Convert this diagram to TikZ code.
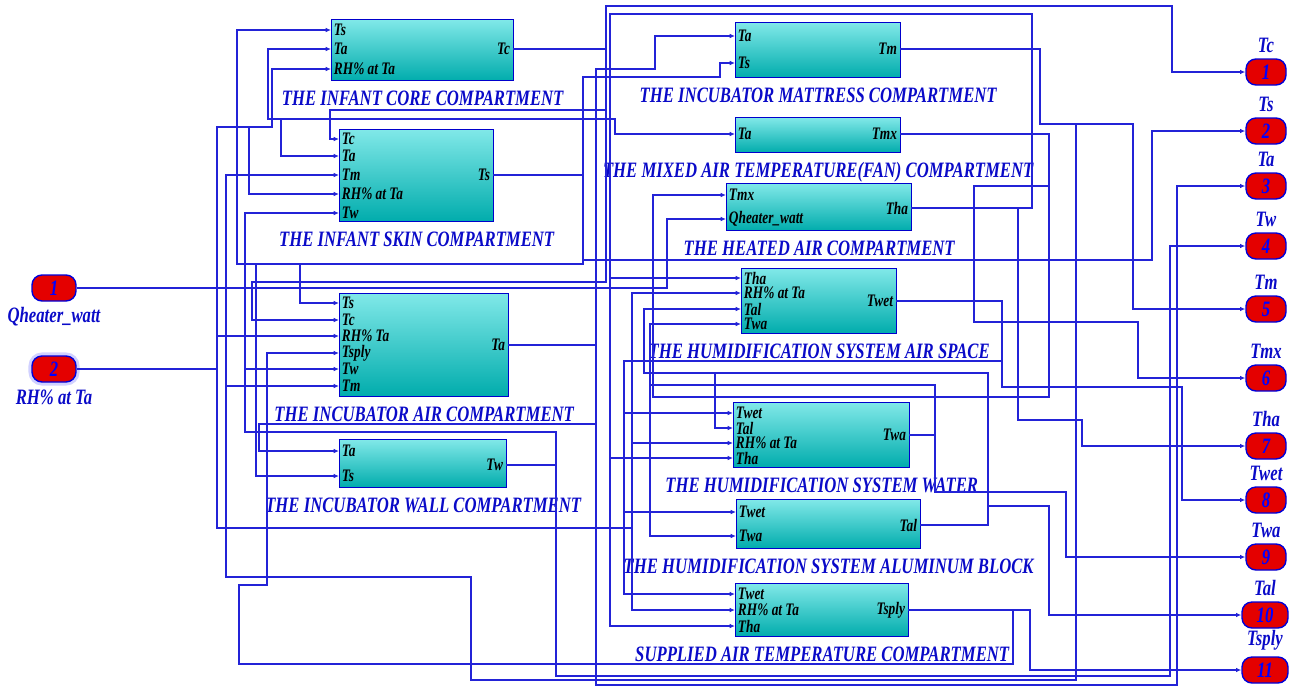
\documentclass[tikz,border=0pt]{standalone}
\usepackage{fontspec}
\newfontfamily\simfont[FakeStretch=0.76]{Liberation Serif}
\usepackage{tikz}
\usetikzlibrary{arrows.meta, positioning}

\definecolor{wireblue}{RGB}{35,35,215}
\definecolor{capblue}{RGB}{10,10,200}
\definecolor{tealtop}{RGB}{128,232,232}
\definecolor{tealbot}{RGB}{0,172,172}
\definecolor{portred}{RGB}{228,0,0}
\newcommand{\blkcapfont}{\simfont\bfseries\itshape\fontsize{12.5}{14}\selectfont}
\newcommand{\blkpinfont}{\simfont\bfseries\itshape\fontsize{10}{11}\selectfont}

\begin{document}
\begin{tikzpicture}[
        x=0.02cm, y=-0.02cm, % one unit = one screen pixel, y down
        block/.style={draw=blue!80!black, line width=0.8pt, top color=tealtop, bottom color=tealbot, anchor=north west, inner sep=0pt},
        caption/.style={text=capblue, font=\blkcapfont, inner sep=1pt},
        pin in/.style={anchor=west, inner xsep=1.5pt, inner ysep=0.2pt, font=\blkpinfont, text=black},
        pin out/.style={pin in, anchor=east},
        ioport/.style={draw=blue!85!black, line width=0.8pt, fill=portred, rounded corners=2mm, minimum width=0.8cm, minimum height=0.52cm, inner sep=1pt, text=blue, font=\blkcapfont},
        iolabel/.style={text=capblue, font=\blkcapfont, inner sep=1pt},
        wire/.style={draw=wireblue, line width=0.6pt},
        feed/.style={wire, -{Latex[length=3pt, width=2.6pt]}}
    ]
    \useasboundingbox (0,0) rectangle (1295,687);

    % --- Subsystem blocks ---
    \node[block, minimum width=3.64cm, minimum height=1.22cm] (core) at (331,19) {};
    \foreach \p/\y/\t in {ts/30/Ts, ta/49/Ta, rh/69/RH\% at Ta}
        \node[pin in] (core-\p) at (331,\y) {\t};
    \node[pin out] (core-tc) at (513,49) {Tc};
    \node[caption, below=4pt of core] {THE INFANT CORE COMPARTMENT};

    \node[block, minimum width=3.08cm, minimum height=1.84cm] (skin) at (339,129) {};
    \foreach \p/\y/\t in {tc/139/Tc, ta/156/Ta, tm/175/Tm, rh/194/RH\% at Ta, tw/213/Tw}
        \node[pin in] (skin-\p) at (339,\y) {\t};
    \node[pin out] (skin-ts) at (493,175) {Ts};
    \node[caption, below=4pt of skin] {THE INFANT SKIN COMPARTMENT};

    \node[block, minimum width=3.38cm, minimum height=2.06cm] (air) at (339,293) {};
    \foreach \p/\y/\t in {ts/303/Ts, tc/320/Tc, rh/336/RH\% Ta, tsply/353/Tsply, tw/369/Tw, tm/386/Tm}
        \node[pin in] (air-\p) at (339,\y) {\t};
    \node[pin out] (air-ta) at (508,345) {Ta};
    \node[caption, below=4pt of air] {THE INCUBATOR AIR COMPARTMENT};

    \node[block, minimum width=3.34cm, minimum height=0.96cm] (wall) at (339,439) {};
    \foreach \p/\y/\t in {ta/451/Ta, ts/476/Ts}
        \node[pin in] (wall-\p) at (339,\y) {\t};
    \node[pin out] (wall-tw) at (506,465) {Tw};
    \node[caption, below=4pt of wall] {THE INCUBATOR WALL COMPARTMENT};

    \node[block, minimum width=3.30cm, minimum height=1.10cm] (matt) at (735,22) {};
    \foreach \p/\y/\t in {ta/36/Ta, ts/63/Ts}
        \node[pin in] (matt-\p) at (735,\y) {\t};
    \node[pin out] (matt-tm) at (900,49) {Tm};
    \node[caption, below=4pt of matt] {THE INCUBATOR MATTRESS COMPARTMENT};

    \node[block, minimum width=3.30cm, minimum height=0.70cm] (mixed) at (735,117) {};
    \node[pin in] (mixed-ta) at (735,134) {Ta};
    \node[pin out] (mixed-tmx) at (900,134) {Tmx};
    \node[caption, below=4pt of mixed] {THE MIXED AIR TEMPERATURE(FAN) COMPARTMENT};

    \node[block, minimum width=3.70cm, minimum height=0.94cm] (heated) at (726,183) {};
    \node[pin in] (heated-tmx) at (726,195) {Tmx};
    \node[pin in] (heated-qh) at (726,219) {Qheater\_watt};
    \node[pin out] (heated-tha) at (911,208) {Tha};
    \node[caption, below=4pt of heated] {THE HEATED AIR COMPARTMENT};

    \node[block, minimum width=3.10cm, minimum height=1.30cm] (humid) at (741,268) {};
    \foreach \p/\y/\t in {tha/278/Tha, rh/293/RH\% at Ta, tal/309/Tal, twa/324/Twa}
        \node[pin in] (humid-\p) at (741,\y) {\t};
    \node[pin out] (humid-twet) at (896,301) {Twet};
    \node[caption, below=4pt of humid] {THE HUMIDIFICATION SYSTEM AIR SPACE};

    \node[block, minimum width=3.52cm, minimum height=1.30cm] (water) at (733,402) {};
    \foreach \p/\y/\t in {twet/413/Twet, tal/428/Tal, rh/443/RH\% at Ta, tha/458/Tha}
        \node[pin in] (water-\p) at (733,\y) {\t};
    \node[pin out] (water-twa) at (909,435) {Twa};
    \node[caption, below=4pt of water] {THE HUMIDIFICATION SYSTEM WATER};

    \node[block, minimum width=3.68cm, minimum height=0.98cm] (alu) at (736,499) {};
    \foreach \p/\y/\t in {twet/512/Twet, twa/536/Twa}
        \node[pin in] (alu-\p) at (736,\y) {\t};
    \node[pin out] (alu-tal) at (920,525) {Tal};
    \node[caption, below=4pt of alu] {THE HUMIDIFICATION SYSTEM ALUMINUM BLOCK};

    \node[block, minimum width=3.46cm, minimum height=1.06cm] (supp) at (735,583) {};
    \foreach \p/\y/\t in {twet/594/Twet, rh/610/RH\% at Ta, tha/626/Tha}
        \node[pin in] (supp-\p) at (735,\y) {\t};
    \node[pin out] (supp-tsply) at (908,610) {Tsply};
    \node[caption, below=4pt of supp] {SUPPLIED AIR TEMPERATURE COMPARTMENT};

    % --- Inports ---
    \node[ioport, minimum width=0.88cm] (in1) at (54,288) {1};
    \node[iolabel, below=2pt of in1] {Qheater\_watt};
    \node[ioport, minimum width=0.88cm, preaction={draw=blue!18, line width=4pt}] (in2) at (54,369) {2};
    \node[iolabel, below=3pt of in2] {RH\% at Ta};

    % --- Outports ---
    \foreach \n/\y/\t in {1/72/Tc, 2/131/Ts, 3/186/Ta, 4/246/Tw, 5/309/Tm, 6/378/Tmx, 7/446/Tha, 8/500/Twet, 9/557/Twa}{
        \node[ioport] (out\n) at (1266,\y) {\n};
        \node[iolabel, above=2pt of out\n] {\t};
    }
    \foreach \n/\y/\t in {10/615/Tal, 11/670/Tsply}{
        \node[ioport, minimum width=0.92cm] (out\n) at (1265,\y) {\n};
        \node[iolabel, above=2pt of out\n] {\t};
    }

    % --- Signal lines ---

    % 1. Tc
    \draw[feed] (core-tc.east) -- (606,49) -- (606,6) -- (1172,6) -- (1172,72) -- (out1.west);
    \draw[feed] (606,49) -- (606,110) -- (330,110) -- (330,139) -- (skin-tc.west);
    \draw[feed] (606,110) -- (606,282) -- (252,282) -- (252,320) -- (air-tc.west);

    % 2. Ts
    \draw[feed] (skin-ts.east) -- (583,175) -- (583,260) -- (1152,260) -- (1152,131) -- (out2.west);
    \draw[feed] (583,260) -- (583,264) -- (237,264) -- (237,30) -- (core-ts.west);
    \draw[feed] (300,264) -- (300,303) -- (air-ts.west);
    \draw[feed] (256,264) -- (256,476) -- (wall-ts.west);
    \draw[feed] (583,175) -- (583,77) -- (720,77) -- (720,63) -- (matt-ts.west);

    % 3. Ta
    \draw[feed] (air-ta.east) -- (596,345) -- (596,685) -- (1177,685) -- (1177,186) -- (out3.west);
    \draw[feed] (596,345) -- (596,119) -- (268,119) -- (268,49) -- (core-ta.west);
    \draw[feed] (281,119) -- (281,156) -- (skin-ta.west);
    \draw[feed] (596,119) -- (615,119) -- (615,134) -- (mixed-ta.west);
    \draw[feed] (596,119) -- (596,69) -- (655,69) -- (655,36) -- (matt-ta.west);
    \draw[feed] (596,424) -- (259,424) -- (259,451) -- (wall-ta.west);

    % 4. Tw
    \draw[feed] (wall-tw.east) -- (556,465) -- (556,676) -- (1170,676) -- (1170,246) -- (out4.west);
    \draw[feed] (556,465) -- (556,432) -- (245,432) -- (245,213) -- (skin-tw.west);
    \draw[feed] (245,369) -- (air-tw.west);

    % 5. Tm
    \draw[feed] (matt-tm.east) -- (1040,49) -- (1040,124) -- (1133,124) -- (1133,309) -- (out5.west);
    \draw[feed] (1076,124) -- (1076,680) -- (471,680) -- (471,577) -- (226,577) -- (226,175) -- (skin-tm.west);
    \draw[feed] (226,386) -- (air-tm.west);

    % 6. Tmx
    \draw[feed] (mixed-tmx.east) -- (1049,134) -- (1049,186) -- (974,186) -- (974,322) -- (1138,322) -- (1138,378) -- (out6.west);
    \draw[feed] (1049,186) -- (1049,397) -- (653,397) -- (653,195) -- (heated-tmx.west);

    % 7. Tha
    \draw[feed] (heated-tha.east) -- (1018,208) -- (1018,420) -- (1082,420) -- (1082,446) -- (out7.west);
    \draw[feed] (1018,208) -- (1032,208) -- (1032,14) -- (610,14) -- (610,278) -- (humid-tha.west);
    \draw[feed] (610,278) -- (610,458) -- (water-tha.west);
    \draw[feed] (610,458) -- (610,626) -- (supp-tha.west);

    % 8. Twet
    \draw[feed] (humid-twet.east) -- (1002,301) -- (1002,387) -- (1182,387) -- (1182,500) -- (out8.west);
    \draw[feed] (1002,361) -- (624,361) -- (624,413) -- (water-twet.west);
    \draw[feed] (624,413) -- (624,512) -- (alu-twet.west);
    \draw[feed] (624,512) -- (624,594) -- (supp-twet.west);

    % 9. Twa
    \draw[feed] (water-twa.east) -- (935,435) -- (935,492) -- (1066,492) -- (1066,557) -- (out9.west);
    \draw[feed] (935,435) -- (935,385) -- (650,385) -- (650,324) -- (humid-twa.west);
    \draw[feed] (650,385) -- (650,536) -- (alu-twa.west);

    % 10. Tal
    \draw[feed] (alu-tal.east) -- (988,525) -- (988,506) -- (1049,506) -- (1049,615) -- (out10.west);
    \draw[feed] (988,506) -- (988,373) -- (644,373) -- (644,309) -- (humid-tal.west);
    \draw[feed] (715,373) -- (715,428) -- (water-tal.west);

    % 11. Tsply
    \draw[feed] (supp-tsply.east) -- (1030,610) -- (1030,670) -- (out11.west);
    \draw[feed] (1013,610) -- (1013,664) -- (239,664) -- (239,585) -- (267,585) -- (267,353) -- (air-tsply.west);

    % 12. heater power input
    \draw[feed] (in1.east) -- (667,288) -- (667,219) -- (heated-qh.west);

    % 13. relative humidity input
    \draw[feed] (in2.east) -- (217,369) -- (217,127) -- (272,127) -- (272,69) -- (core-rh.west);
    \draw[feed] (249,127) -- (249,194) -- (skin-rh.west);
    \draw[feed] (217,336) -- (air-rh.west);
    \draw[feed] (217,369) -- (217,528) -- (632,528) -- (632,293) -- (humid-rh.west);
    \draw[feed] (632,443) -- (water-rh.west);
    \draw[feed] (632,528) -- (632,610) -- (supp-rh.west);

\end{tikzpicture}
\end{document}
